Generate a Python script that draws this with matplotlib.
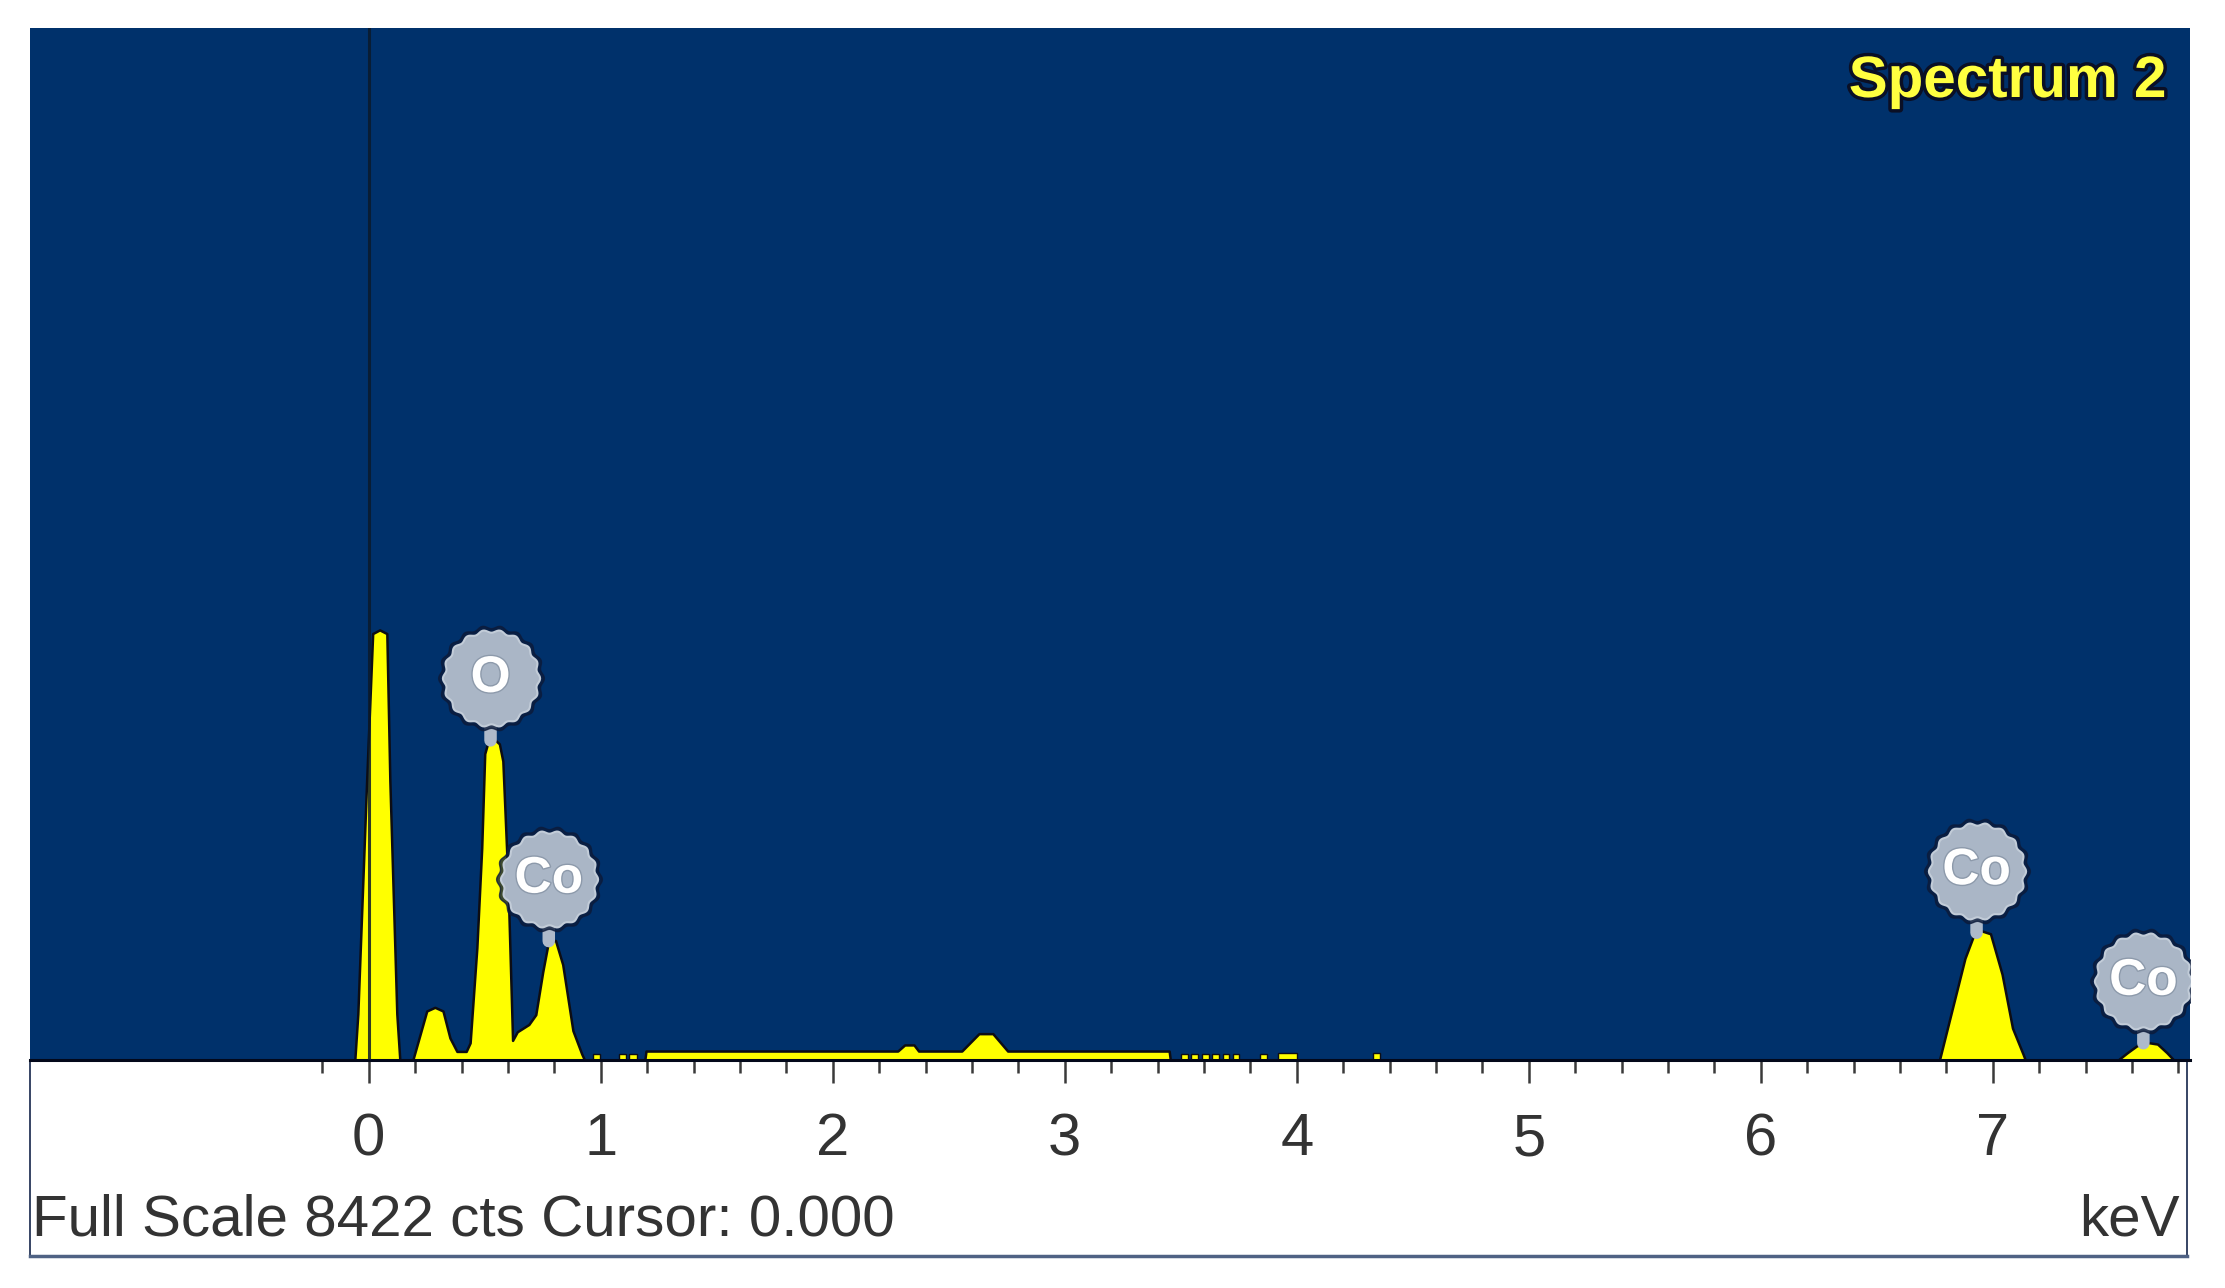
import numpy as np
import matplotlib.pyplot as plt
import matplotlib.patheffects as pe
from matplotlib.path import Path
from matplotlib.patches import Rectangle
from matplotlib.lines import Line2D
from matplotlib.transforms import offset_copy

plt.rcParams['font.family'] = ['Liberation Sans', 'DejaVu Sans']

# spectrum outline (keV, counts)
energy_kev = [-1.46, -0.06, -0.047, -0.009, 0.017, 0.047, 0.078, 0.091, 0.121, 0.134,
              0.19, 0.22, 0.25, 0.285, 0.32, 0.35, 0.38, 0.42,
              0.437, 0.466, 0.487, 0.50, 0.515, 0.54, 0.563, 0.578, 0.60, 0.62,
              0.64, 0.69, 0.72, 0.75, 0.775, 0.805, 0.836, 0.88, 0.918, 0.93,
              1.19, 1.195, 2.28, 2.31, 2.35, 2.37, 2.556, 2.63, 2.69, 2.754, 3.45, 3.455,
              6.77, 6.815, 6.88, 6.92, 6.95, 6.99, 7.04, 7.085, 7.13, 7.14,
              7.54, 7.58, 7.62, 7.66, 7.71, 7.75, 7.78, 7.85]
counts = [0, 0, 376, 2280, 3480, 3510, 3480, 2280, 376, 0,
          0, 200, 400, 430, 400, 180, 70, 70,
          140, 915, 1730, 2500, 2600, 2620, 2580, 2440, 1460, 160,
          230, 290, 370, 720, 970, 975, 780, 240, 50, 0,
          0, 73, 73, 123, 123, 73, 73, 215, 215, 73, 73, 0,
          0, 340, 830, 1030, 1055, 1030, 700, 260, 50, 0,
          0, 60, 115, 145, 130, 60, 0, 0]

# short noise blips sitting on the baseline
blip_start = [0.966, 1.08, 1.12, 3.50, 3.545, 3.59, 3.635, 3.68, 3.725, 3.84, 3.92, 4.33]
blip_end = [0.996, 1.11, 1.155, 3.53, 3.575, 3.62, 3.665, 3.71, 3.75, 3.87, 4.00, 4.36]
blip_cts = [45, 45, 45, 45, 45, 45, 45, 45, 45, 45, 55, 55]

# element markers (line energy keV, label)
line_kev = [0.525, 0.776, 6.930, 7.649]
line_label = ['O', 'Co', 'Co', 'Co']

full_scale = 8422
cursor_kev = 0.0
spectrum_name = 'Spectrum 2'
x_lo, x_hi = -1.46, 7.85
major_ticks = [0, 1, 2, 3, 4, 5, 6, 7]
minor_ticks = [round(-0.2 + 0.2 * i, 1) for i in range(41)]

W, H = 2225, 1288
fig = plt.figure(figsize=(W / 100, H / 100), dpi=100)
fig.patch.set_facecolor('white')

# blue spectrum panel
ax = fig.add_axes([30 / W, 1 - 1060 / H, 2160 / W, 1032 / H])
ax.set_facecolor('#00316B')
ax.set_xlim(x_lo, x_hi)
ax.set_ylim(0, full_scale)

ax.fill_between(energy_kev, counts, 0, facecolor='#FFFF00', edgecolor='#0d0d14',
                linewidth=1.8, zorder=2)
ax.bar(blip_start, blip_cts, width=np.subtract(blip_end, blip_start), align='edge',
       color='#FFFF00', edgecolor='#0d0d14', linewidth=1.0, zorder=2)

ax.axvline(cursor_kev, color='#0b1a2b', lw=2.2, alpha=0.85, zorder=3)

# gear shaped element badges
theta = np.linspace(0, 2 * np.pi, 217)
rad = 1 + 0.03 * np.cos(18 * theta)
gear = Path(np.column_stack([rad * np.cos(theta), rad * np.sin(theta)]), closed=True)

for kev, lab in zip(line_kev, line_label):
    top = np.interp(kev, energy_kev, counts)
    tr = offset_copy(ax.transData, fig=fig, x=0, y=62, units='dots')
    ax.annotate('', xy=(kev, top), xytext=(0, 62), textcoords='offset pixels',
                arrowprops=dict(arrowstyle='-', color='#AEBACA', lw=9, shrinkA=0, shrinkB=0),
                zorder=4)
    ax.scatter([kev], [top], transform=tr, marker=gear, s=5800, color='#0c1b3b',
               alpha=0.8, zorder=5)
    ax.scatter([kev], [top], transform=tr, marker=gear, s=4900, facecolor='#AAB6C6',
               edgecolor='#C2CCD8', linewidth=1.5, zorder=6)
    ax.text(kev, top, lab, transform=tr, ha='center', va='center', fontsize=37,
            fontweight='bold', color='white', zorder=7,
            path_effects=[pe.withStroke(linewidth=2, foreground='#8d9aab')])

for s in ['top', 'left', 'right']:
    ax.spines[s].set_visible(False)
ax.spines['bottom'].set_color('#03081a')
ax.spines['bottom'].set_linewidth(2.2)

ax.set_yticks([])
ax.set_xticks(major_ticks)
ax.set_xticklabels([str(t) for t in major_ticks])
ax.set_xticks([t for t in minor_ticks if abs(t - round(t)) > 1e-6], minor=True)
ax.tick_params(axis='x', which='major', direction='out', length=16.5, width=1.8,
               color='#3a3a3a', pad=21, labelsize=43, labelcolor='#333333')
ax.tick_params(axis='x', which='minor', direction='out', length=9.4, width=1.8,
               color='#3a3a3a')

# white readout strip under the panel
fig.add_artist(Rectangle((30 / W, 1 - 1256 / H), 2157 / W, 196 / H,
                         transform=fig.transFigure, facecolor='white',
                         edgecolor='#14254a', linewidth=1.2, zorder=-1))
fig.add_artist(Line2D([30 / W, 2187 / W], [1 - 1256 / H] * 2, color='#4f6284', lw=2.5))

fig.text(2167 / W, 1 - 97 / H, spectrum_name, ha='right', va='baseline',
         fontsize=42, fontweight='bold', color='#FFFF40',
         path_effects=[pe.withStroke(linewidth=5, foreground='#0a0f25')])

fig.text(32 / W, 1 - 1235 / H, f'Full Scale {full_scale} cts Cursor: {cursor_kev:.3f}',
         ha='left', va='baseline', fontsize=42, color='#333333')
fig.text(2180 / W, 1 - 1235 / H, 'keV', ha='right', va='baseline', fontsize=42,
         color='#333333')

fig.savefig('out.png', dpi=100)
plt.close(fig)
